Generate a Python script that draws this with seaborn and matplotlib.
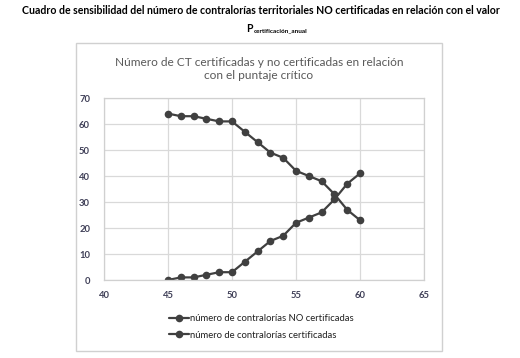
import matplotlib
matplotlib.use("Agg")
import matplotlib.pyplot as plt
import seaborn as sns
import pandas as pd
from matplotlib.patches import Rectangle
from matplotlib.lines import Line2D

puntaje = [45, 46, 47, 48, 49, 50, 51, 52, 53, 54, 55, 56, 57, 58, 59, 60]
no_certificadas = [64, 63, 63, 62, 61, 61, 57, 53, 49, 47, 42, 40, 38, 33, 27, 23]
certificadas = [0, 1, 1, 2, 3, 3, 7, 11, 15, 17, 22, 24, 26, 31, 37, 41]
serie_no = "número de contralorías NO certificadas"
serie_si = "número de contralorías certificadas"
x_ticks = [40, 45, 50, 55, 60, 65]
y_ticks = [0, 10, 20, 30, 40, 50, 60, 70]

df = pd.DataFrame({
    "puntaje": puntaje * 2,
    "valor": no_certificadas + certificadas,
    "serie": [serie_no] * len(puntaje) + [serie_si] * len(puntaje),
})

sns.set_theme(style="white")
plt.rcParams["font.family"] = ["Lato", "DejaVu Sans"]

W, H = 520, 358
fig = plt.figure(figsize=(W / 100, H / 100), dpi=100)
fig.patch.set_facecolor("white")

# outer chart box
fig.add_artist(Rectangle((76 / W, 1 - 351 / H), (442 - 76) / W, (351 - 43) / H,
                         transform=fig.transFigure, fill=False,
                         edgecolor="#d0d0d0", linewidth=1))

ax = fig.add_axes([104 / W, 1 - 280 / H, (424 - 104) / W, (280 - 98) / H])
color = "#404040"
sns.lineplot(data=df, x="puntaje", y="valor", hue="serie",
             palette={serie_no: color, serie_si: color},
             marker="o", markersize=5.5, markeredgewidth=0, linewidth=1.6,
             ax=ax, legend=False)

ax.set_xlim(40, 65)
ax.set_ylim(0, 70)
ax.set_xticks(x_ticks)
ax.set_yticks(y_ticks)
ax.set_xlabel("")
ax.set_ylabel("")
ax.grid(True, color="#d9d9d9", linewidth=0.9)
for s in ax.spines.values():
    s.set_color("#d0d0d0")
    s.set_linewidth(0.9)
ax.tick_params(axis="both", length=0, labelsize=6.8, labelcolor="#404058")
for lab in ax.get_xticklabels() + ax.get_yticklabels():
    lab.set_fontweight("bold")
ax.tick_params(axis="y", pad=10)
ax.tick_params(axis="x", pad=8)

# titles
fig.text(261 / W, 1 - 11 / H, "Cuadro de sensibilidad del número de contralorías territoriales NO certificadas en relación con el valor",
         ha="center", va="center", fontsize=7.6, fontweight="bold", color="black")
fig.text(253 / W, 1 - 28 / H, "P", ha="right", va="center", fontsize=7.6,
         fontweight="bold", color="black")
fig.text(254 / W, 1 - 31 / H, "certificación_anual", ha="left", va="center",
         fontsize=4.6, fontweight="bold", color="black")

fig.text(259 / W, 1 - 69 / H, "Número de CT certificadas y no certificadas en relación\ncon el puntaje crítico",
         ha="center", va="center", fontsize=8.6, color="#595959", linespacing=1.3)

# legend
handles = [Line2D([0], [0], color=color, marker="o", markersize=5.5,
                  markeredgewidth=0, linewidth=1.6) for _ in range(2)]
fig.legend(handles, [serie_no, serie_si], loc="center left",
           bbox_to_anchor=(160 / W, 1 - 327 / H), frameon=False,
           fontsize=6.8, handlelength=2.2, handletextpad=0.1,
           labelspacing=0.75, labelcolor="#202020")

fig.savefig("out.png", dpi=100, facecolor="white")
